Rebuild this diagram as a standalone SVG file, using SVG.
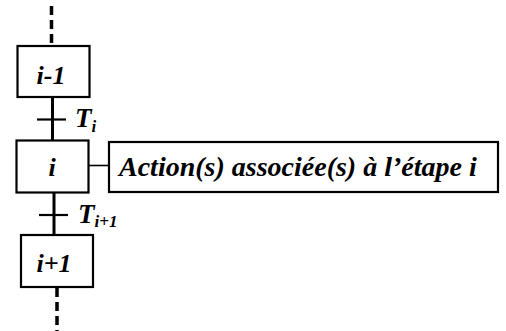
<svg xmlns="http://www.w3.org/2000/svg" width="506" height="331" viewBox="0 0 506 331">
  <!-- connectors: step links, transition bars, action link -->
  <g id="connectors" stroke="#000" fill="none">
    <g stroke-width="3.5" stroke-dasharray="9 5">
      <line x1="51.5" y1="6" x2="51.5" y2="46"/>
      <line x1="57" y1="288" x2="57" y2="331"/>
    </g>
    <g stroke-width="3">
      <line x1="52.5" y1="97" x2="52.5" y2="140"/>
      <line x1="54" y1="192" x2="54" y2="235"/>
    </g>
    <g stroke-width="2.2">
      <line x1="37" y1="119.5" x2="66" y2="119.5"/>
      <line x1="39" y1="215" x2="68" y2="215"/>
    </g>
    <line x1="88.5" y1="165.5" x2="109" y2="165.5" stroke-width="1.6"/>
  </g>

  <!-- shared look: white boxes, bold italic serif labels -->
  <g font-family="'Liberation Serif', 'Times New Roman', serif" font-weight="bold" font-style="italic" fill="#000">
    <g id="transition-i" font-size="27">
      <text x="75" y="127">T<tspan font-size="17" dy="5">i</tspan></text>
    </g>
    <g id="transition-i1" font-size="27">
      <text x="78" y="223">T<tspan font-size="17" dy="4">i+1</tspan></text>
    </g>

    <g id="step-prev">
      <rect x="17.5" y="46" width="72" height="51" fill="#fff" stroke="#000" stroke-width="2.2"/>
      <text x="51" y="84" font-size="26" text-anchor="middle">i-1</text>
    </g>

    <g id="step-i">
      <rect x="16.5" y="140.5" width="72" height="52" fill="#fff" stroke="#000" stroke-width="2.2"/>
      <text x="52" y="176" font-size="26" text-anchor="middle">i</text>
    </g>

    <g id="step-next">
      <rect x="21" y="235" width="72" height="52" fill="#fff" stroke="#000" stroke-width="2.2"/>
      <text x="54" y="272" font-size="26" text-anchor="middle">i+1</text>
    </g>

    <g id="action">
      <rect x="109" y="142" width="389" height="50" fill="#fff" stroke="#000" stroke-width="2.2"/>
      <text x="119" y="176" font-size="28">Action(s) associée(s) à l’étape i</text>
    </g>
  </g>
</svg>
